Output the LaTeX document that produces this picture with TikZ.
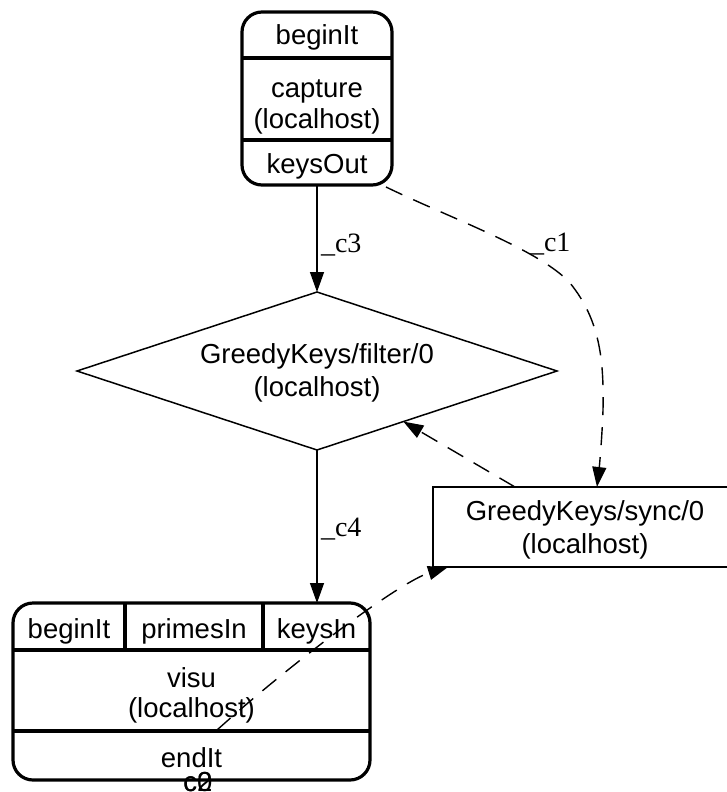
\documentclass[tikz,border=0pt]{standalone}
\usepackage{fontspec}
\setmainfont{Liberation Sans}
\newfontfamily\edgefont{Liberation Serif}
\usetikzlibrary{arrows.meta,shapes.geometric,calc}

\begin{document}
\begin{tikzpicture}[x=1pt,y=-1pt,
  every node/.style={inner sep=0pt, outer sep=0pt},
  record/.style={draw, line width=3.2pt, rounded corners=20pt},
  divider/.style={line width=3.2pt},
  txt/.style={anchor=base, font=\fontsize{27.5}{32}\selectfont},
  decision/.style={diamond, draw, line width=1.5pt, aspect=3.04,
    minimum width=480pt, minimum height=158pt},
  proc/.style={draw, line width=1.7pt, rectangle},
  edge/.style={line width=1.4pt, -{Triangle[length=20pt,width=14pt]}},
  dashes/.style={dash pattern=on 18pt off 12pt},
  elabel/.style={anchor=base west, font=\edgefont\fontsize{28}{32}\selectfont}
]
\useasboundingbox (0,0) rectangle (727,792);
\clip (0,0) rectangle (727,792);

% capture record: beginIt | capture (localhost) | keysOut
\node[record, minimum width=150pt, minimum height=173pt] (cap) at (317,98.5) {};
\draw[divider] (242,58) -- (392,58);
\draw[divider] (242,140) -- (392,140);
\node[txt] (capIn) at (317,45) {beginIt};
\node[txt] (capName) at (317,97) {capture};
\node[txt] (capHost) at (317,128) {(localhost)};
\node[txt] (capOut) at (317,173) {keysOut};

% filter task
\node[decision] (filter) at (317,371) {};
\node[txt] (filterName) at (317,363) {GreedyKeys/filter/0};
\node[txt] (filterHost) at (317,396) {(localhost)};

% sync task
\node[proc, minimum width=304pt, minimum height=80pt] (sync) at (585,527) {};
\node[txt] (syncName) at (585,520) {GreedyKeys/sync/0};
\node[txt] (syncHost) at (585,553) {(localhost)};

% visu record: beginIt | primesIn | keysIn / visu (localhost) / endIt
\node[record, minimum width=357pt, minimum height=177pt] (visu) at (191.5,691.5) {};
\draw[divider] (13,650) -- (370,650);
\draw[divider] (13,731) -- (370,731);
\draw[divider] (125,603) -- (125,650);
\draw[divider] (263,603) -- (263,650);
\node[txt] (visuBegin) at (69,638) {beginIt};
\node[txt] (visuPrimes) at (194,638) {primesIn};
\node[txt] (visuKeys) at (316.5,638) {keysIn};
\node[txt] (visuName) at (191.5,687) {visu};
\node[txt] (visuHost) at (191.5,717) {(localhost)};
\node[txt] (visuEnd) at (191.5,767) {endIt};
\node[txt] (visuC0) at (198,791) {c0};
\node[txt] (visuC2) at (198,791) {c2};

% connectors
\coordinate (c1from) at ([shift={(-6pt,-2pt)}]cap.south east);
\coordinate (c1to) at ([xshift=12pt]sync.north);
\coordinate (syncOut) at ([xshift=-70pt]sync.north);
\coordinate (keysFrom) at (217,730);
\coordinate (keysTo) at ([xshift=15pt]sync.south west);

\draw[edge] (cap) -- (filter);
\node[elabel] (lc3) at (321,252) {\_c3};

\draw[edge, dashes] (c1from) .. controls (450,218) and (540,250) .. (570,283)
  .. controls (600,320) and (604,360) .. (603,410)
  .. controls (602,440) and (599,470) .. (c1to);
\node[elabel] (lc1) at (530,251) {\_c1};

\draw[edge] (filter) -- (filter.south |- visu.north);
\node[elabel] (lc4) at (321,536) {\_c4};

\draw[edge, dashes] (syncOut) -- (filter);

\draw[edge, dashes] (keysFrom) .. controls (295,660) and (400,582) .. (keysTo);
\end{tikzpicture}
\end{document}
